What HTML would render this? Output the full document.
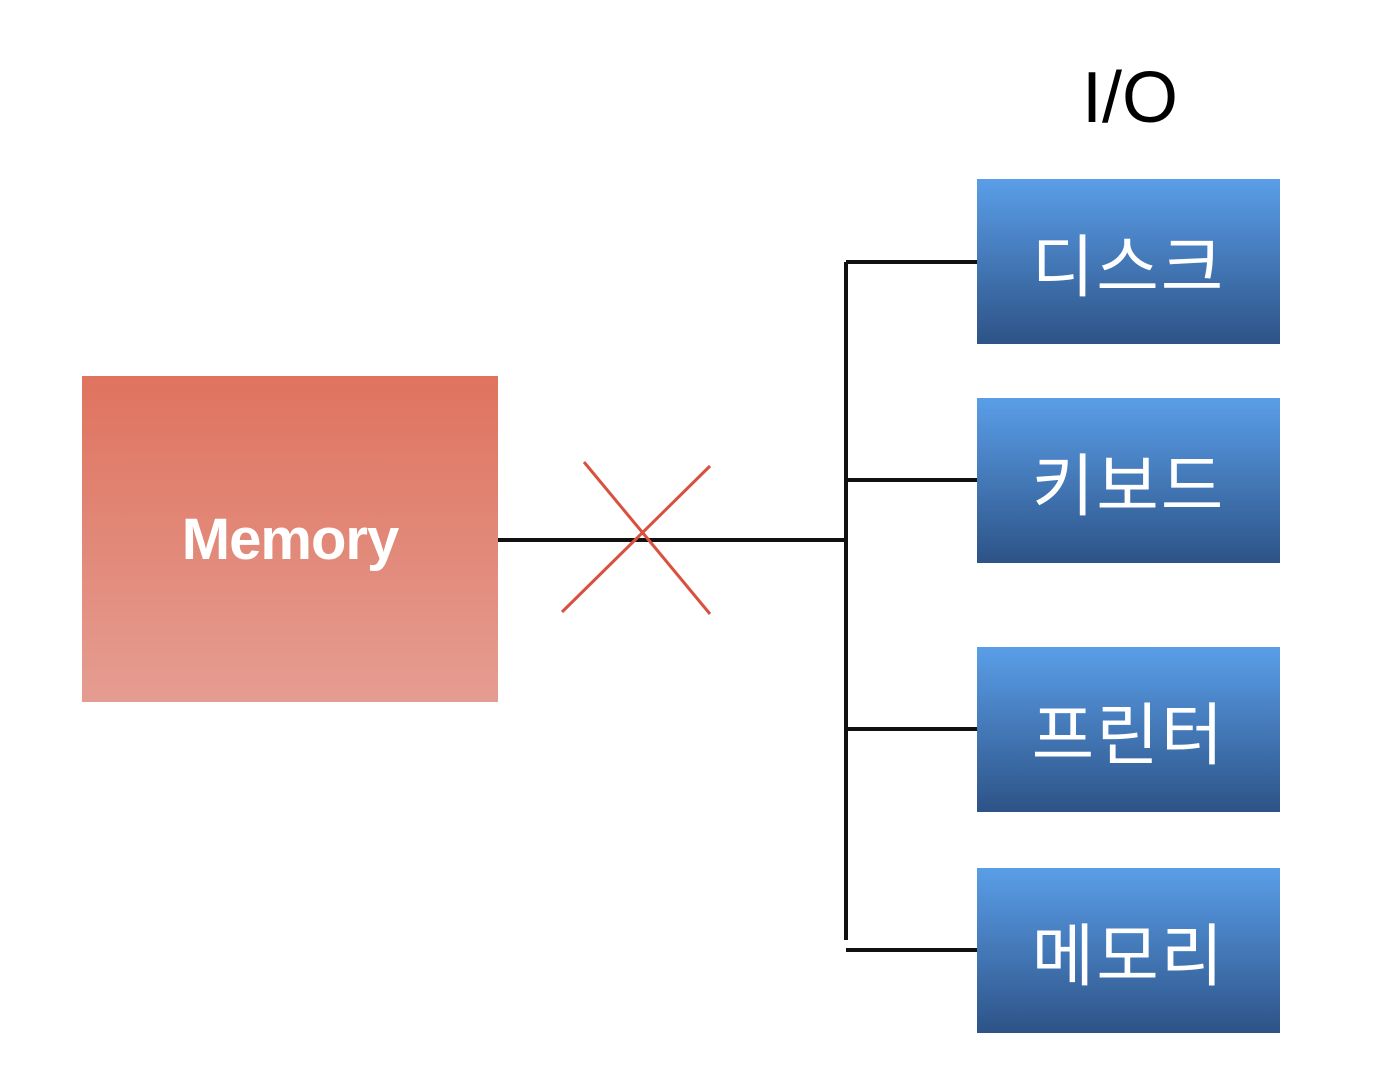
<!DOCTYPE html>
<html><head><meta charset="utf-8"><style>
body{margin:0;width:1390px;height:1088px;background:#fff;position:relative;overflow:hidden;font-family:"Liberation Sans","Noto Sans CJK KR",sans-serif}
.b{position:absolute;left:977px;width:303px;height:165px;background:linear-gradient(#5a9ee8,#2d5387);color:#fff;font-size:68px;display:flex;align-items:center;justify-content:center;letter-spacing:2px}
</style></head><body>
<div style="position:absolute;left:82px;top:376px;width:416px;height:326px;background:linear-gradient(#df735f,#e59d91);color:#fff;font-weight:bold;font-size:58px;display:flex;align-items:center;justify-content:center;letter-spacing:-1px">Memory</div>
<div style="position:absolute;left:1060px;top:50px;width:140px;text-align:center;font-size:72px;line-height:96px">I/O</div>
<div class="b" style="top:179px">디스크</div>
<div class="b" style="top:398px">키보드</div>
<div class="b" style="top:647px">프린터</div>
<div class="b" style="top:868px">메모리</div>
<svg width="1390" height="1088" style="position:absolute;left:0;top:0">
<g stroke="#111" stroke-width="4" fill="none">
<line x1="498" y1="540" x2="846" y2="540"/>
<line x1="846" y1="262" x2="846" y2="940"/>
<line x1="846" y1="262" x2="977" y2="262"/>
<line x1="846" y1="480" x2="977" y2="480"/>
<line x1="846" y1="729" x2="977" y2="729"/>
<line x1="846" y1="950" x2="977" y2="950"/>
</g>
<g stroke="#d9503f" stroke-width="3">
<line x1="584" y1="462" x2="710" y2="614"/>
<line x1="562" y1="612" x2="710" y2="466"/>
</g>
</svg>
</body></html>
